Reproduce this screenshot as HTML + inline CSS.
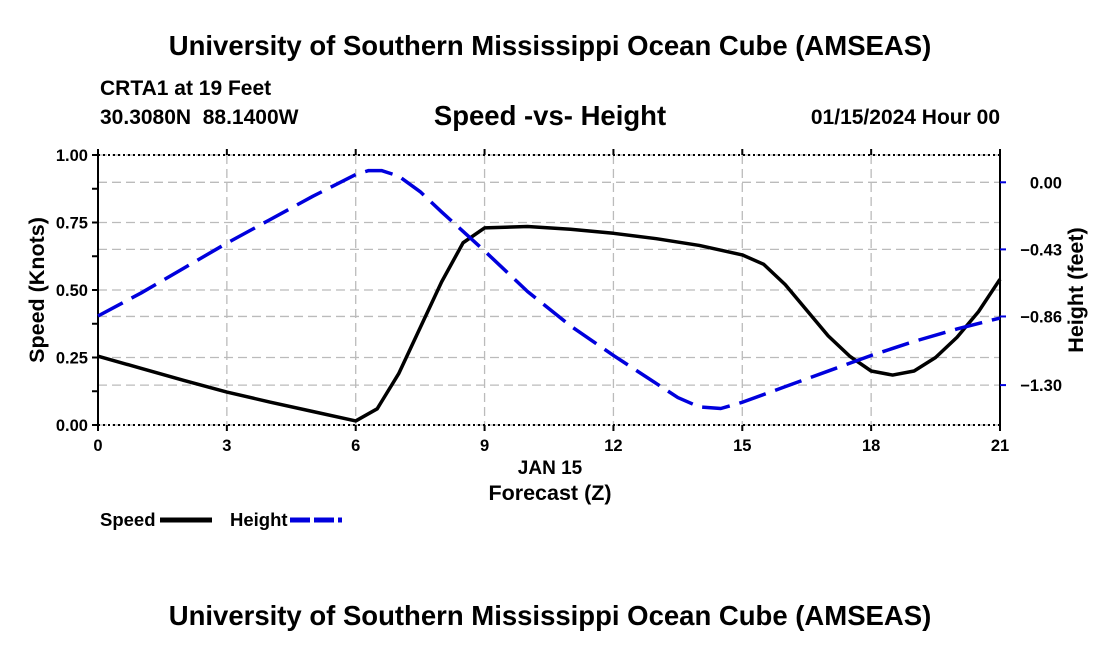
<!DOCTYPE html>
<html><head><meta charset="utf-8"><style>
body{margin:0;background:#fff;}
svg text{font-family:"Liberation Sans",Arial,sans-serif;font-weight:bold;}
</style></head><body>
<svg width="1100" height="650">
<text x="550" y="55" font-size="27.5" text-anchor="middle">University of Southern Mississippi Ocean Cube (AMSEAS)</text>
<text x="100" y="95" font-size="21">CRTA1 at 19 Feet</text>
<text x="100" y="124" font-size="21" xml:space="preserve">30.3080N  88.1400W</text>
<text x="550" y="125" font-size="27.5" text-anchor="middle">Speed -vs- Height</text>
<text x="1000" y="124" font-size="21" text-anchor="end">01/15/2024 Hour 00</text>
<g id="grid"></g>
<g id="axes"></g>
<g id="series"></g>
<text transform="translate(44,290) rotate(-90)" font-size="21.5" text-anchor="middle">Speed (Knots)</text>
<text transform="translate(1083,290) rotate(-90)" font-size="21.5" text-anchor="middle">Height (feet)</text>
<text x="550" y="474" font-size="19" text-anchor="middle">JAN 15</text>
<text x="550" y="500" font-size="21.5" text-anchor="middle">Forecast (Z)</text>
<g><text x="100" y="526" font-size="18.5">Speed</text><line x1="160" y1="520" x2="212" y2="520" stroke="#000" stroke-width="5"/></g>
<g><text x="230" y="526" font-size="18.5">Height</text><line x1="290" y1="520" x2="342" y2="520" stroke="#0000dd" stroke-width="5" stroke-dasharray="20,4"/></g>
<text x="550" y="625" font-size="27.5" text-anchor="middle">University of Southern Mississippi Ocean Cube (AMSEAS)</text>
</svg>
<script>
const hours=[0,1,2,3,4,5,6,6.5,7,8,8.5,9,10,11,12,13,14,15,15.5,16,17,17.5,18,18.5,19,19.5,20,20.5,21];
const speed=[0.255,0.21,0.165,0.122,0.085,0.05,0.015,0.06,0.19,0.53,0.675,0.73,0.735,0.725,0.71,0.69,0.665,0.63,0.595,0.52,0.33,0.255,0.2,0.185,0.2,0.25,0.325,0.42,0.54];
const hHours=[0,1,2,3,4,5,5.5,6,6.3,6.6,7,7.5,8,9,10,11,12,13,13.5,14,14.5,15,16,17,18,19,20,21];
const height=[-0.857,-0.71,-0.55,-0.39,-0.24,-0.09,-0.02,0.05,0.075,0.075,0.04,-0.06,-0.19,-0.44,-0.70,-0.92,-1.11,-1.29,-1.38,-1.44,-1.45,-1.41,-1.31,-1.21,-1.11,-1.02,-0.94,-0.87];
const xTicks=[0,3,6,9,12,15,18,21];
const yTicks=[0,0.25,0.5,0.75,1];
const yLabels=["0.00","0.25","0.50","0.75","1.00"];
const hTicks=[0,-0.43,-0.86,-1.30];
const hLabels=["0.00","\u22120.43","\u22120.86","\u22121.30"];
const X0=98,X1=1000,Y0=425,Y1=155;
const x=t=>X0+(X1-X0)*t/21;
const y=v=>Y0-(Y0-Y1)*v;
const yh=h=>182.3-156*h;
const NS="http://www.w3.org/2000/svg";
function mk(p,tag,a){const e=document.createElementNS(NS,tag);for(const k in a)e.setAttribute(k,a[k]);p.appendChild(e);return e;}
const grid=document.getElementById('grid'),axes=document.getElementById('axes'),ser=document.getElementById('series');
const gs={stroke:"#bbb","stroke-width":1.3,"stroke-dasharray":"9,5"};
xTicks.forEach(t=>{const l=mk(grid,'line',Object.assign({x1:x(t),x2:x(t),y1:Y1,y2:Y0},gs));

});
yTicks.forEach(v=>{const l=mk(grid,'line',Object.assign({x1:X0,x2:X1,y1:y(v),y2:y(v)},gs));

});
hTicks.forEach(h=>{const l=mk(grid,'line',Object.assign({x1:X0,x2:X1,y1:yh(h),y2:yh(h)},gs));

});
mk(axes,'line',{x1:X0,x2:X0,y1:Y1,y2:Y0,stroke:"#000","stroke-width":2});
mk(axes,'line',{x1:X1,x2:X1,y1:Y1,y2:Y0,stroke:"#000","stroke-width":2});
mk(axes,'line',{x1:X0,x2:X1,y1:Y1,y2:Y1,stroke:"#000","stroke-width":2,"stroke-dasharray":"2,3"});
mk(axes,'line',{x1:X0,x2:X1,y1:Y0,y2:Y0,stroke:"#000","stroke-width":2,"stroke-dasharray":"2,3"});
xTicks.forEach(t=>{mk(axes,'line',{x1:x(t),x2:x(t),y1:Y0,y2:Y0+6,stroke:"#000","stroke-width":2});mk(axes,'line',{x1:x(t),x2:x(t),y1:Y1,y2:Y1-6,stroke:"#000","stroke-width":2});
const tx=mk(axes,'text',{x:x(t),y:Y0+26,"font-size":16.5,"text-anchor":"middle"});tx.textContent=t;

});
for(let v=0;v<=1.0001;v+=0.125)mk(axes,'line',{x1:X0-6,x2:X0,y1:y(v),y2:y(v),stroke:"#000","stroke-width":2});
yTicks.forEach((v,i)=>{const tx=mk(axes,'text',{x:88,y:y(v)+6,"font-size":16.5,"text-anchor":"end"});tx.textContent=yLabels[i];

});
hTicks.forEach((h,i)=>{mk(axes,'line',{x1:X1,x2:X1+6,y1:yh(h),y2:yh(h),stroke:"#0000dd","stroke-width":2});
const tx=mk(axes,'text',{x:1062,y:yh(h)+6,"font-size":16.5,"text-anchor":"end"});tx.textContent=hLabels[i];

});
const sp=mk(ser,'polyline',{points:hours.map((t,i)=>x(t)+","+y(speed[i])).join(" "),fill:"none",stroke:"#000","stroke-width":3.5,"stroke-linejoin":"round"});


const hl=mk(ser,'polyline',{points:hHours.map((t,i)=>x(t)+","+yh(height[i])).join(" "),fill:"none",stroke:"#0000dd","stroke-width":3.5,"stroke-dasharray":"28,10","stroke-linejoin":"round"});


</script>
</body></html>
